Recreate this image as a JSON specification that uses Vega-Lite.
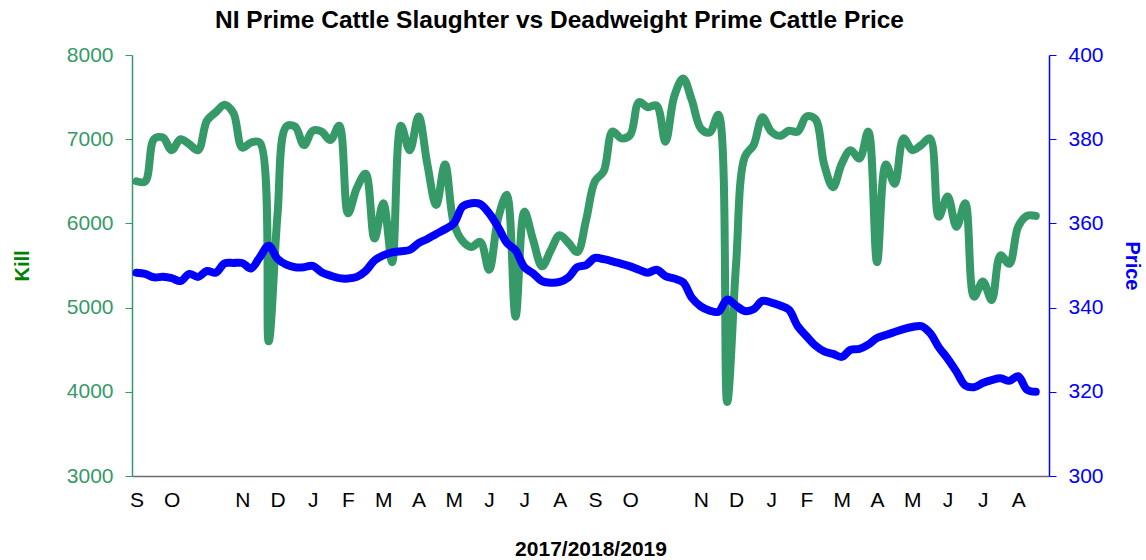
{
  "$schema": "https://vega.github.io/schema/vega-lite/v6.json",
  "autosize": {"type": "none"},
  "width": 917,
  "height": 421,
  "padding": {"left": 132, "top": 55, "right": 97, "bottom": 84},
  "background": "white",
  "view": {"stroke": null},
  "config": {"font": "Liberation Sans"},
  "title": {
    "text": "NI Prime Cattle Slaughter vs Deadweight Prime Cattle Price",
    "font": "Liberation Sans",
    "fontSize": 24.5,
    "fontWeight": "bold",
    "color": "#000000",
    "anchor": "middle",
    "frame": "group",
    "dx": -31,
    "offset": 11
  },
  "data": {
    "values": [
      {"i": 0, "kill": 6500, "price": 348.3},
      {"i": 1, "kill": 6500, "price": 348.0},
      {"i": 2, "kill": 7000, "price": 347.2},
      {"i": 3, "kill": 7020, "price": 347.3},
      {"i": 4, "kill": 6870, "price": 347.0},
      {"i": 5, "kill": 7000, "price": 346.3},
      {"i": 6, "kill": 6940, "price": 348.0},
      {"i": 7, "kill": 6870, "price": 347.3},
      {"i": 8, "kill": 7220, "price": 348.7},
      {"i": 9, "kill": 7320, "price": 348.3},
      {"i": 10, "kill": 7410, "price": 350.5},
      {"i": 11, "kill": 7310, "price": 350.6},
      {"i": 12, "kill": 6900, "price": 350.6},
      {"i": 13, "kill": 6960, "price": 349.3},
      {"i": 14, "kill": 6960, "price": 352.0},
      {"i": 15, "kill": 4600, "price": 354.7},
      {"i": 16, "kill": 6100, "price": 351.6},
      {"i": 17, "kill": 7150, "price": 350.2},
      {"i": 18, "kill": 7150, "price": 349.6},
      {"i": 19, "kill": 6930, "price": 349.6},
      {"i": 20, "kill": 7100, "price": 349.9},
      {"i": 21, "kill": 7090, "price": 348.4},
      {"i": 22, "kill": 6990, "price": 347.6},
      {"i": 23, "kill": 7160, "price": 347.0},
      {"i": 24, "kill": 6120, "price": 346.9},
      {"i": 25, "kill": 6420, "price": 347.3},
      {"i": 26, "kill": 6590, "price": 348.7},
      {"i": 27, "kill": 5820, "price": 351.2},
      {"i": 28, "kill": 6240, "price": 352.4},
      {"i": 29, "kill": 5540, "price": 353.1},
      {"i": 30, "kill": 7160, "price": 353.4},
      {"i": 31, "kill": 6870, "price": 353.7},
      {"i": 32, "kill": 7270, "price": 355.3},
      {"i": 33, "kill": 6700, "price": 356.3},
      {"i": 34, "kill": 6220, "price": 357.5},
      {"i": 35, "kill": 6700, "price": 358.6},
      {"i": 36, "kill": 6000, "price": 360.0},
      {"i": 37, "kill": 5790, "price": 364.0},
      {"i": 38, "kill": 5720, "price": 364.8},
      {"i": 39, "kill": 5780, "price": 364.6},
      {"i": 40, "kill": 5450, "price": 362.4},
      {"i": 41, "kill": 6050, "price": 359.2},
      {"i": 42, "kill": 6340, "price": 355.4},
      {"i": 43, "kill": 4890, "price": 353.6},
      {"i": 44, "kill": 6140, "price": 349.6},
      {"i": 45, "kill": 5800, "price": 348.1},
      {"i": 46, "kill": 5490, "price": 346.3},
      {"i": 47, "kill": 5680, "price": 345.9},
      {"i": 48, "kill": 5860, "price": 346.1},
      {"i": 49, "kill": 5770, "price": 347.2},
      {"i": 50, "kill": 5660, "price": 349.6},
      {"i": 51, "kill": 6040, "price": 350.1},
      {"i": 52, "kill": 6500, "price": 351.8},
      {"i": 53, "kill": 6620, "price": 351.5},
      {"i": 54, "kill": 7090, "price": 351.0},
      {"i": 55, "kill": 7010, "price": 350.4},
      {"i": 56, "kill": 7050, "price": 349.8},
      {"i": 57, "kill": 7440, "price": 349.0},
      {"i": 58, "kill": 7380, "price": 348.3},
      {"i": 59, "kill": 7400, "price": 349.0},
      {"i": 60, "kill": 6970, "price": 347.5},
      {"i": 61, "kill": 7510, "price": 346.9},
      {"i": 62, "kill": 7720, "price": 346.0},
      {"i": 63, "kill": 7460, "price": 342.3},
      {"i": 64, "kill": 7130, "price": 340.3},
      {"i": 65, "kill": 7080, "price": 339.3},
      {"i": 66, "kill": 7290, "price": 339.0},
      {"i": 67, "kill": 3880, "price": 341.9},
      {"i": 68, "kill": 5500, "price": 340.5},
      {"i": 69, "kill": 6790, "price": 339.2},
      {"i": 70, "kill": 6930, "price": 339.6},
      {"i": 71, "kill": 7260, "price": 341.6},
      {"i": 72, "kill": 7090, "price": 341.2},
      {"i": 73, "kill": 7040, "price": 340.5},
      {"i": 74, "kill": 7100, "price": 339.5},
      {"i": 75, "kill": 7090, "price": 335.6},
      {"i": 76, "kill": 7270, "price": 333.2},
      {"i": 77, "kill": 7240, "price": 331.0},
      {"i": 78, "kill": 6700, "price": 329.6},
      {"i": 79, "kill": 6430, "price": 329.0},
      {"i": 80, "kill": 6710, "price": 328.3},
      {"i": 81, "kill": 6870, "price": 330.0},
      {"i": 82, "kill": 6770, "price": 330.2},
      {"i": 83, "kill": 7090, "price": 331.2},
      {"i": 84, "kill": 5540, "price": 332.8},
      {"i": 85, "kill": 6700, "price": 333.5},
      {"i": 86, "kill": 6470, "price": 334.2},
      {"i": 87, "kill": 7010, "price": 334.9},
      {"i": 88, "kill": 6870, "price": 335.4},
      {"i": 89, "kill": 6930, "price": 335.6},
      {"i": 90, "kill": 7010, "price": 334.0},
      {"i": 91, "kill": 6080, "price": 330.6},
      {"i": 92, "kill": 6320, "price": 327.9},
      {"i": 93, "kill": 5960, "price": 324.8},
      {"i": 94, "kill": 6240, "price": 321.5},
      {"i": 95, "kill": 5130, "price": 321.1},
      {"i": 96, "kill": 5310, "price": 322.1},
      {"i": 97, "kill": 5090, "price": 322.8},
      {"i": 98, "kill": 5620, "price": 323.2},
      {"i": 99, "kill": 5520, "price": 322.6},
      {"i": 100, "kill": 5960, "price": 323.7},
      {"i": 101, "kill": 6090, "price": 320.5},
      {"i": 102, "kill": 6090, "price": 320.0}
    ]
  },
  "encoding": {
    "x": {
      "field": "i",
      "type": "quantitative",
      "scale": {"domain": [-0.5, 103.5], "nice": false, "zero": false},
      "axis": {
        "title": "2017/2018/2019",
        "titleFont": "Liberation Sans",
        "titleFontSize": 21,
        "titleFontWeight": "bold",
        "titleColor": "#000000",
        "titlePadding": 28,
        "values": [0, 4, 8, 12, 16, 20, 24, 28, 32, 36, 40, 44, 48, 52, 56, 60, 64, 68, 72, 76, 80, 84, 88, 92, 96, 100],
        "labelExpr": "['S','O','','N','D','J','F','M','A','M','J','J','A','S','O','','N','D','J','F','M','A','M','J','J','A'][round(datum.value/4)]",
        "labelFont": "Liberation Sans",
        "labelFontSize": 21,
        "labelColor": "#000000",
        "labelPadding": 13,
        "labelOverlap": false,
        "labelFlush": false,
        "ticks": false,
        "tickSize": 0,
        "grid": false,
        "domainColor": "#6b6b6b",
        "domainWidth": 1.5
      }
    }
  },
  "layer": [
    {
      "mark": {"type": "line", "color": "#359a68", "strokeWidth": 8, "interpolate": "catmull-rom", "strokeCap": "round", "strokeJoin": "round"},
      "encoding": {
        "y": {
          "field": "kill",
          "type": "quantitative",
          "scale": {"domain": [3000, 8000], "nice": false, "zero": false},
          "axis": {
            "orient": "left",
            "title": "Kill",
            "titleFont": "Liberation Sans",
            "titleFontSize": 20,
            "titleFontWeight": "bold",
            "titleColor": "#008000",
            "titlePadding": 34,
            "values": [3000, 4000, 5000, 6000, 7000, 8000],
            "format": "d",
            "labelFont": "Liberation Sans",
            "labelFontSize": 21,
            "labelColor": "#359a68",
            "labelPadding": 12,
            "tickSize": 7,
            "tickColor": "#359a68",
            "domainColor": "#359a68",
            "domainWidth": 1.5,
            "grid": false
          }
        }
      }
    },
    {
      "mark": {"type": "line", "color": "#0000ff", "strokeWidth": 8, "interpolate": "catmull-rom", "strokeCap": "round", "strokeJoin": "round"},
      "encoding": {
        "y": {
          "field": "price",
          "type": "quantitative",
          "scale": {"domain": [300, 400], "nice": false, "zero": false},
          "axis": {
            "orient": "right",
            "title": "Price",
            "titleFont": "Liberation Sans",
            "titleFontSize": 20,
            "titleFontWeight": "bold",
            "titleColor": "#0000ff",
            "titlePadding": 18,
            "values": [300, 320, 340, 360, 380, 400],
            "format": "d",
            "labelFont": "Liberation Sans",
            "labelFontSize": 21,
            "labelColor": "#0000ff",
            "labelPadding": 12,
            "tickSize": 7,
            "tickColor": "#0000ff",
            "domainColor": "#0000ff",
            "domainWidth": 1.5,
            "grid": false
          }
        }
      }
    }
  ],
  "resolve": {"scale": {"y": "independent"}}
}
